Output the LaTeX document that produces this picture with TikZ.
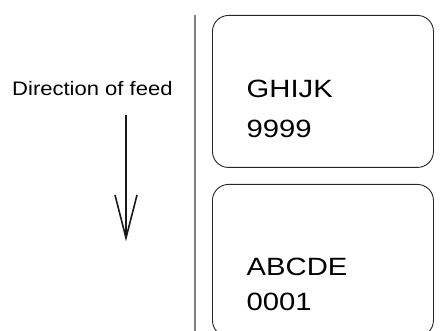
\documentclass[tikz,border=0pt]{standalone}
\usepackage{fontspec}
\newfontfamily\labfont[FakeStretch=1.17]{Liberation Sans}
\newfontfamily\dirfont[FakeStretch=1.13]{Liberation Sans}
\begin{document}
\begin{tikzpicture}[x=1pt,y=-1pt,
  labelbox/.style={draw=black!85, line width=0.9pt, rounded corners=16pt, minimum width=221pt, minimum height=152pt, inner sep=0pt, anchor=north west},
  bigtext/.style={anchor=base west, inner sep=0pt, font=\labfont\fontsize{25pt}{30pt}\selectfont, text=black},
  dirtext/.style={anchor=base west, inner sep=0pt, font=\dirfont\fontsize{19.5pt}{24pt}\selectfont, text=black},
  feedline/.style={line width=1.6pt, black!90}]
\clip (0,0) rectangle (445,331);
\fill[white] (0,0) rectangle (445,331);
% divider
\coordinate (vt) at (195,15);
\coordinate (vb) at (195,332);
\draw[gray, line width=1.4pt] (vt) -- (vb);
% labels
\node[labelbox] (top) at (212,15) {};
\node[labelbox] (bot) at (212,184) {};
\node[bigtext] (t1) at (246.5,97.3) {GHIJK};
\node[bigtext] (t2) at (246.5,138) {9999};
\node[bigtext] (b1) at (246.5,275.7) {ABCDE};
\node[bigtext] (b2) at (246.5,310.7) {0001};
% direction
\node[dirtext] (dir) at (12,95.7) {Direction of feed};
\coordinate (as) at (126,115);
\coordinate (tip) at (126,238);
\coordinate (wl) at (115,195);
\coordinate (wr) at (137,195);
\draw[feedline] (as) -- (tip);
\draw[feedline, line join=miter] (wl) -- (tip) -- (wr);
\end{tikzpicture}
\end{document}
